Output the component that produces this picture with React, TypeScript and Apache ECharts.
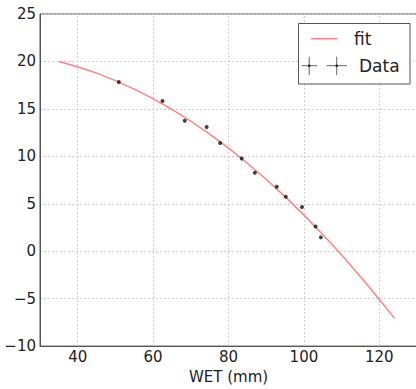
import React, { useEffect, useRef } from "react";
import * as echarts from "echarts";

const dataX = [50.9, 62.5, 68.4, 74.2, 77.8, 83.5, 87.0, 92.8, 95.2, 99.5, 103.1, 104.5];
const dataY = [17.84, 15.83, 13.75, 13.1, 11.4, 9.76, 8.26, 6.8, 5.73, 4.65, 2.6, 1.46];

const fitX = [35, 45, 55, 65, 75, 85, 95, 105, 115, 124];
const fitY = [20.0, 18.77, 17.08, 14.94, 12.33, 9.27, 5.75, 1.76, -2.68, -7.05];

const xTicks = [40, 60, 80, 100, 120];
const yTicks = [-10, -5, 0, 5, 10, 15, 20, 25];

const FONT = "DejaVu Sans";

export default function App() {
  const ref = useRef<HTMLDivElement>(null);
  useEffect(() => {
    if (!ref.current) return;
    const chart = echarts.init(ref.current, undefined, { renderer: "svg" });
    const fmt = (v: number) => String(v).replace("-", "\u2212");
    const gridColor = "#cfcfcf";
    const axisColor = "#555";
    const lx = 298.5, ly = 23.5, lw = 111.5, lh = 60.5;
    chart.setOption({
      animation: false,
      backgroundColor: "#fff",
      grid: { left: 40, right: 1, top: 14, bottom: 39, show: true, borderColor: axisColor, borderWidth: 1 },
      xAxis: {
        type: "value",
        min: 30,
        max: 130,
        interval: 10,
        name: "WET (mm)",
        nameLocation: "middle",
        nameGap: 19,
        nameTextStyle: { fontFamily: FONT, fontSize: 15, color: "#222" },
        axisLine: { show: true, onZero: false, lineStyle: { color: axisColor, width: 1 } },
        axisTick: { show: false },
        axisLabel: {
          fontFamily: FONT,
          fontSize: 15,
          color: "#222",
          margin: 3,
          formatter: (v: number) => (xTicks.includes(v) ? fmt(v) : ""),
        },
        splitLine: { show: false },
      },
      yAxis: {
        type: "value",
        min: yTicks[0],
        max: yTicks[yTicks.length - 1],
        interval: 5,
        axisLine: { show: true, onZero: false, lineStyle: { color: axisColor, width: 1 } },
        axisTick: { show: false },
        axisLabel: { fontFamily: FONT, fontSize: 15, color: "#222", margin: 4, formatter: (v: number) => fmt(v) },
        splitLine: { show: true, lineStyle: { color: gridColor, type: [2, 2], width: 1 } },
      },
      series: [
        {
          name: "fit",
          type: "line",
          smooth: 0.4,
          showSymbol: false,
          symbol: "none",
          lineStyle: { color: "#ff8383", width: 1.5 },
          data: fitX.map((x, i) => [x, fitY[i]]),
          z: 2,
          markLine: {
            silent: true,
            symbol: ["none", "none"],
            label: { show: false },
            lineStyle: { color: gridColor, type: [2, 2], width: 1 },
            data: xTicks.map((v) => ({ xAxis: v })),
            z: 0,
          },
        },
        {
          name: "Data",
          type: "scatter",
          symbol: "circle",
          symbolSize: 4,
          itemStyle: { color: "#111" },
          data: dataX.map((x, i) => [x, dataY[i]]),
          z: 3,
        },
      ],
      graphic: [
        {
          type: "rect",
          shape: { x: lx, y: ly, width: lw, height: lh },
          style: { fill: "#fff", stroke: "#555", lineWidth: 1 },
          z: 10,
        },
        {
          type: "line",
          shape: { x1: 311, y1: 38.7, x2: 337.5, y2: 38.7 },
          style: { stroke: "#ff8383", lineWidth: 1.5 },
          z: 11,
        },
        {
          type: "text",
          x: 354,
          y: 39,
          style: { text: "fit", fontFamily: FONT, fontSize: 17, fill: "#222", verticalAlign: "middle" },
          z: 11,
        },
        {
          type: "line",
          shape: { x1: 301.5, y1: 65.7, x2: 317, y2: 65.7 },
          style: { stroke: "#666", lineWidth: 1 },
          z: 11,
        },
        {
          type: "line",
          shape: { x1: 309.2, y1: 56.7, x2: 309.2, y2: 75 },
          style: { stroke: "#666", lineWidth: 1 },
          z: 11,
        },
        {
          type: "line",
          shape: { x1: 326.5, y1: 65.7, x2: 347, y2: 65.7 },
          style: { stroke: "#666", lineWidth: 1 },
          z: 11,
        },
        {
          type: "line",
          shape: { x1: 336.7, y1: 56.7, x2: 336.7, y2: 75 },
          style: { stroke: "#666", lineWidth: 1 },
          z: 11,
        },
        {
          type: "circle",
          shape: { cx: 309.2, cy: 65.7, r: 1.3 },
          style: { fill: "#222" },
          z: 12,
        },
        {
          type: "circle",
          shape: { cx: 336.7, cy: 65.7, r: 1.3 },
          style: { fill: "#222" },
          z: 12,
        },
        {
          type: "text",
          x: 359,
          y: 66,
          style: { text: "Data", fontFamily: FONT, fontSize: 17, fill: "#222", verticalAlign: "middle" },
          z: 11,
        },
      ],
    });
    return () => chart.dispose();
  }, []);
  return (
    <div style={{ position: "fixed", left: 0, top: 0, width: 416, height: 389, overflow: "hidden", background: "#fff" }}>
      <div ref={ref} style={{ width: 420, height: 389 }} />
    </div>
  );
}
